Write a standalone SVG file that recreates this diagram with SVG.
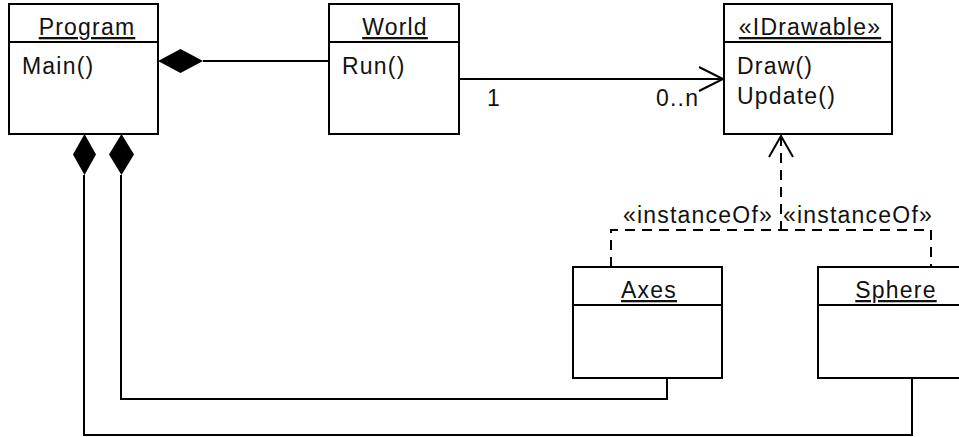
<svg xmlns="http://www.w3.org/2000/svg" width="959" height="437" viewBox="0 0 959 437">
<style>
.box{fill:#fff;stroke:#000;stroke-width:2}
.ln{fill:none;stroke:#000;stroke-width:2}
.dash{fill:none;stroke:#000;stroke-width:2;stroke-dasharray:10 7}
.dia{fill:#000;stroke:none}
text{font-family:"Liberation Sans",Arial,sans-serif;font-size:23px;letter-spacing:1.2px;fill:#111}
.t{text-anchor:middle;text-decoration:underline}
</style>
<rect width="959" height="437" fill="#fff"/>
<g id="connectors">
  <path class="ln" d="M203,61 H329"/>
  <polygon class="dia" points="158,61 180.5,49 203,61 180.5,73"/>
  <path class="ln" d="M84,175 V435 H912 V378"/>
  <polygon class="dia" points="84.5,134 96,154.5 84.5,175 73,154.5"/>
  <path class="ln" d="M121,175 V399 H667 V378"/>
  <polygon class="dia" points="121.5,134 134,154.5 121.5,175 109,154.5"/>
  <path class="ln" d="M459,79 H723"/>
  <path class="ln" d="M699,67 L723,79 L699,91"/>
  <text x="487" y="106">1</text>
  <text x="656" y="106">0..n</text>
  <path class="dash" d="M781,136 V230"/>
  <path class="dash" d="M611,267 V230 H931 V267"/>
  <path class="ln" d="M769,157 L781,136 L793,157"/>
  <text x="698" y="223" text-anchor="middle">«instanceOf»</text>
  <text x="858" y="223" text-anchor="middle">«instanceOf»</text>
</g>
<g id="Program">
  <rect class="box" x="9" y="4" width="149" height="130"/>
  <path class="ln" d="M9,42 H158"/>
  <text class="t" x="87" y="35">Program</text>
  <text x="22" y="74">Main()</text>
</g>
<g id="World">
  <rect class="box" x="329" y="4" width="130" height="130"/>
  <path class="ln" d="M329,42 H459"/>
  <text class="t" x="395" y="35">World</text>
  <text x="342" y="74">Run()</text>
</g>
<g id="IDrawable">
  <rect class="box" x="724" y="4" width="168" height="130"/>
  <path class="ln" d="M724,42 H892"/>
  <text class="t" x="810" y="35">«IDrawable»</text>
  <text x="737" y="74">Draw()</text>
  <text x="737" y="104">Update()</text>
</g>
<g id="Axes">
  <rect class="box" x="573" y="267" width="149" height="111"/>
  <path class="ln" d="M573,305 H722"/>
  <text class="t" x="649" y="298">Axes</text>
</g>
<g id="Sphere">
  <rect class="box" x="818" y="267" width="154" height="111"/>
  <path class="ln" d="M818,305 H972"/>
  <text class="t" x="896" y="298">Sphere</text>
</g>
</svg>
